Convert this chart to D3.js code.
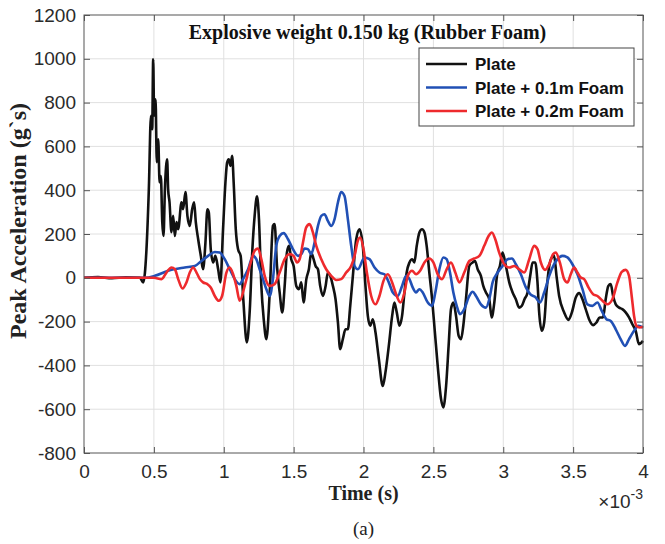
<!DOCTYPE html>
<html>
<head>
<meta charset="utf-8">
<script src="https://cdnjs.cloudflare.com/ajax/libs/d3/7.8.5/d3.min.js"></script>
<style>
  body { margin: 0; background: #fff; }
</style>
</head>
<body>
<div id="chart"></div>
<script>
// time in ms (axis shows x10^-3 s), acceleration in g's
var xTicks = [0, 0.5, 1, 1.5, 2, 2.5, 3, 3.5, 4];
var yTicks = [-800, -600, -400, -200, 0, 200, 400, 600, 800, 1000, 1200];
var seriesNames = ["Plate", "Plate + 0.1m Foam", "Plate + 0.2m Foam"];
var seriesColors = ["#111111", "#2150b5", "#ee2a2d"];

var plate = [[0,0],[0.1,3],[0.2,-2],[0.3,2],[0.4,0],[0.424,-21],[0.447,130],[0.464,405],[0.479,740],[0.488,678],
  [0.495,998],[0.502,740],[0.512,815],[0.521,528],[0.531,632],[0.541,436],[0.55,465],[0.56,254],[0.569,191],[0.579,405],
  [0.595,541],[0.602,405],[0.612,345],[0.626,208],[0.638,283],[0.65,191],[0.662,254],[0.674,222],[0.698,345],[0.709,313],
  [0.726,391],[0.74,283],[0.757,237],[0.774,313],[0.788,345],[0.8,254],[0.817,176],[0.836,100],[0.852,39],[0.869,161],
  [0.883,313],[0.893,299],[0.907,131],[0.924,70],[0.94,100],[0.96,39],[0.976,-21],[0.995,222],[1.012,435],[1.024,526],
  [1.036,541],[1.048,511],[1.06,557],[1.071,435],[1.086,222],[1.102,131],[1.121,100],[1.14,-100],[1.165,-295],[1.186,-150],
  [1.205,131],[1.221,283],[1.238,372],[1.252,268],[1.269,-37],[1.286,-189],[1.305,-280],[1.329,-67],[1.352,237],[1.364,245],
  [1.381,54],[1.4,-67],[1.419,-158],[1.436,-37],[1.452,115],[1.467,146],[1.483,85],[1.5,54],[1.519,-37],[1.538,-52],
  [1.555,-21],[1.571,-113],[1.591,-6],[1.609,39],[1.626,115],[1.643,85],[1.657,54],[1.674,39],[1.69,-37],[1.709,-83],
  [1.729,-37],[1.745,24],[1.762,9],[1.781,-37],[1.8,-98],[1.817,-204],[1.833,-326],[1.852,-280],[1.871,-235],[1.888,-235],
  [1.905,-128],[1.924,9],[1.948,176],[1.971,222],[1.995,146],[2.014,-37],[2.031,-174],[2.048,-219],[2.067,-189],[2.086,-250],
  [2.11,-372],[2.138,-494],[2.157,-432],[2.181,-311],[2.205,-174],[2.221,-113],[2.238,-158],[2.257,-219],[2.276,-174],[2.293,-67],
  [2.309,24],[2.329,70],[2.348,85],[2.364,70],[2.381,146],[2.4,207],[2.419,222],[2.436,207],[2.452,146],[2.471,24],
  [2.491,-98],[2.509,-235],[2.531,-402],[2.555,-554],[2.571,-592],[2.591,-494],[2.609,-311],[2.626,-143],[2.643,-113],[2.662,-174],
  [2.681,-265],[2.698,-280],[2.714,-219],[2.733,-98],[2.757,54],[2.781,70],[2.798,77],[2.817,39],[2.84,9],[2.857,-37],
  [2.876,-67],[2.9,-98],[2.917,-181],[2.936,-113],[2.955,9],[2.976,54],[2.995,115],[3.019,54],[3.043,-21],[3.067,-67],
  [3.09,-98],[3.114,-136],[3.133,-128],[3.152,-98],[3.174,-67],[3.193,9],[3.21,70],[3.229,70],[3.245,-21],[3.257,-158],
  [3.276,-242],[3.293,-204],[3.309,-67],[3.329,54],[3.348,93],[3.364,100],[3.381,9],[3.4,-83],[3.436,-158],[3.467,-192],
  [3.491,-158],[3.519,-90],[3.543,-70],[3.567,-98],[3.59,-143],[3.614,-189],[3.643,-216],[3.667,-204],[3.69,-181],[3.714,-181],
  [3.733,-98],[3.752,-37],[3.769,-29],[3.786,-83],[3.805,-121],[3.829,-136],[3.852,-143],[3.876,-158],[3.9,-181],[3.924,-212],
  [3.948,-242],[3.971,-303],[4.0,-288]];

var foam01 = [[0,0],[0.436,0],[0.507,9],[0.602,32],[0.721,47],[0.793,54],[0.84,77],[0.888,100],[0.936,118],[0.971,115],
  [1.007,85],[1.043,39],[1.079,-6],[1.114,-29],[1.138,-6],[1.174,39],[1.21,100],[1.233,85],[1.257,39],[1.281,-6],
  [1.305,-52],[1.329,-83],[1.352,-6],[1.376,146],[1.4,191],[1.429,204],[1.46,176],[1.495,131],[1.531,100],[1.555,108],
  [1.579,134],[1.602,131],[1.626,108],[1.65,161],[1.674,237],[1.698,283],[1.721,290],[1.745,260],[1.769,237],[1.793,268],
  [1.817,344],[1.84,392],[1.864,374],[1.888,268],[1.912,146],[1.936,54],[1.96,39],[2.007,93],[2.043,85],[2.079,47],
  [2.114,24],[2.15,16],[2.181,-21],[2.21,-67],[2.245,-83],[2.276,-37],[2.305,9],[2.329,-6],[2.352,-44],[2.376,-67],
  [2.4,-52],[2.424,-67],[2.46,-113],[2.491,-128],[2.514,-67],[2.543,39],[2.571,93],[2.595,85],[2.619,24],[2.643,-67],
  [2.667,-128],[2.69,-166],[2.721,-143],[2.757,-83],[2.781,-64],[2.805,-83],[2.84,-121],[2.876,-136],[2.9,-98],[2.924,-21],
  [2.96,24],[2.995,54],[3.031,85],[3.062,88],[3.09,62],[3.126,16],[3.162,-44],[3.193,-75],[3.233,-90],[3.262,-113],
  [3.293,-67],[3.329,9],[3.364,62],[3.388,85],[3.424,100],[3.459,93],[3.495,62],[3.531,16],[3.567,-52],[3.602,-121],
  [3.638,-128],[3.674,-113],[3.705,-151],[3.738,-189],[3.769,-197],[3.805,-235],[3.84,-280],[3.871,-311],[3.9,-280],[3.936,-242],
  [3.967,-219],[4.0,-227]];

var foam02 = [[0,0],[0.5,0],[0.555,-6],[0.59,24],[0.626,47],[0.65,39],[0.674,-6],[0.705,-49],[0.733,-21],[0.757,24],
  [0.781,47],[0.805,24],[0.829,-6],[0.852,-21],[0.883,-29],[0.907,-44],[0.936,-83],[0.964,-105],[0.988,-83],[1.019,24],
  [1.043,47],[1.067,16],[1.09,-37],[1.114,-105],[1.15,-37],[1.186,54],[1.221,123],[1.245,134],[1.269,85],[1.293,9],
  [1.329,-37],[1.364,-29],[1.4,24],[1.436,85],[1.471,108],[1.5,100],[1.524,70],[1.543,85],[1.567,161],[1.59,230],
  [1.614,245],[1.638,207],[1.662,146],[1.698,85],[1.733,39],[1.769,9],[1.805,-10],[1.84,-6],[1.876,24],[1.912,54],
  [1.936,100],[1.96,170],[1.976,184],[2.0,131],[2.024,24],[2.055,-83],[2.086,-121],[2.114,-83],[2.143,-14],[2.174,16],
  [2.205,-21],[2.229,-67],[2.264,-113],[2.293,-67],[2.317,9],[2.348,32],[2.376,16],[2.405,32],[2.436,70],[2.471,88],
  [2.5,70],[2.531,16],[2.562,-6],[2.595,39],[2.626,70],[2.657,24],[2.686,-21],[2.721,24],[2.757,77],[2.793,88],
  [2.829,100],[2.864,146],[2.895,191],[2.919,207],[2.943,176],[2.971,115],[3.007,62],[3.043,47],[3.079,54],[3.114,39],
  [3.15,24],[3.186,85],[3.221,146],[3.245,131],[3.269,70],[3.3,36],[3.329,62],[3.357,108],[3.376,115],[3.405,70],
  [3.436,-6],[3.459,-21],[3.483,16],[3.507,47],[3.531,24],[3.555,1],[3.579,-6],[3.61,-44],[3.643,-75],[3.674,-83],
  [3.71,-105],[3.745,-121],[3.781,-98],[3.817,-21],[3.848,27],[3.876,36],[3.9,9],[3.919,-83],[3.936,-174],[3.952,-219],
  [3.976,-227],[4.0,-224]];

var width = 665, height = 544;
var margin = {top: 15, right: 22, bottom: 91, left: 84};
var w = width - margin.left - margin.right,
    h = height - margin.top - margin.bottom;

var svg = d3.select("#chart").append("svg")
  .attr("width", width)
  .attr("height", height)
  .style("background", "#fff");

var g = svg.append("g").attr("transform", "translate(" + margin.left + "," + margin.top + ")");

var x = d3.scaleLinear().domain([0, 4]).range([0, w]);
var y = d3.scaleLinear().domain([-800, 1200]).range([h, 0]);

// grid
g.append("g").selectAll("line").data(xTicks.slice(1, -1)).enter().append("line")
  .attr("x1", function(d) { return x(d); }).attr("x2", function(d) { return x(d); })
  .attr("y1", 0).attr("y2", h)
  .attr("stroke", "#e0e0e0").attr("stroke-width", 1);
g.append("g").selectAll("line").data(yTicks.slice(1, -1)).enter().append("line")
  .attr("y1", function(d) { return y(d); }).attr("y2", function(d) { return y(d); })
  .attr("x1", 0).attr("x2", w)
  .attr("stroke", "#e0e0e0").attr("stroke-width", 1);

var line = d3.line()
  .x(function(d) { return x(d[0]); })
  .y(function(d) { return y(d[1]); })
  .curve(d3.curveMonotoneX);

var allSeries = [plate, foam01, foam02];
g.append("g").selectAll("path").data(allSeries).enter().append("path")
  .attr("d", line)
  .attr("fill", "none")
  .attr("stroke", function(d, i) { return seriesColors[i]; })
  .attr("stroke-width", 2.6)
  .attr("stroke-linejoin", "round");

// axes (MATLAB style, ticks inside, on all sides)
var axisColor = "#555";
var plainNum = function(d) { return String(d); };
function styleAxis(sel) {
  sel.select(".domain").remove();
  sel.selectAll(".tick line").attr("stroke", axisColor);
  sel.selectAll(".tick text")
    .attr("fill", "#2a2a2a")
    .style("font-family", "'Liberation Sans', Arial, sans-serif")
    .style("font-size", "19px");
}

g.append("g").attr("transform", "translate(0," + h + ")")
  .call(d3.axisBottom(x).tickValues(xTicks).tickSizeInner(-6).tickSizeOuter(0).tickPadding(12).tickFormat(plainNum))
  .call(styleAxis);
g.append("g").attr("transform", "translate(0,0)")
  .call(d3.axisTop(x).tickValues(xTicks).tickSizeInner(-6).tickSizeOuter(0).tickFormat(""))
  .call(styleAxis);
g.append("g")
  .call(d3.axisLeft(y).tickValues(yTicks).tickSizeInner(-6).tickSizeOuter(0).tickPadding(8).tickFormat(plainNum))
  .call(styleAxis);
g.append("g").attr("transform", "translate(" + w + ",0)")
  .call(d3.axisRight(y).tickValues(yTicks).tickSizeInner(-6).tickSizeOuter(0).tickFormat(""))
  .call(styleAxis);

g.append("rect")
  .attr("width", w).attr("height", h)
  .attr("fill", "none").attr("stroke", axisColor).attr("stroke-width", 1);

// title inside axes
g.append("text")
  .attr("x", w / 2 + 4).attr("y", 24)
  .attr("text-anchor", "middle")
  .style("font-family", "'Liberation Serif', 'Times New Roman', serif")
  .style("font-weight", "bold")
  .style("font-size", "20px")
  .attr("fill", "#111")
  .text("Explosive weight 0.150 kg (Rubber Foam)");

// legend
var legend = g.append("g").attr("transform", "translate(" + (419 - margin.left) + "," + (48 - margin.top) + ")");
legend.append("rect")
  .attr("width", 215).attr("height", 78)
  .attr("fill", "#fff").attr("stroke", "#444").attr("stroke-width", 1);
var items = legend.selectAll("g.item").data(seriesNames).enter().append("g")
  .attr("class", "item")
  .attr("transform", function(d, i) { return "translate(0," + (16 + i * 23.5) + ")"; });
items.append("line")
  .attr("x1", 7).attr("x2", 48)
  .attr("stroke", function(d, i) { return seriesColors[i]; })
  .attr("stroke-width", 2.6);
items.append("text")
  .attr("x", 56).attr("y", 6)
  .style("font-family", "'Liberation Sans', Arial, sans-serif")
  .style("font-weight", "bold")
  .style("font-size", "17px")
  .attr("fill", "#111")
  .text(function(d) { return d; });

// axis labels
svg.append("text")
  .attr("x", margin.left + w / 2).attr("y", 500)
  .attr("text-anchor", "middle")
  .style("font-family", "'Liberation Serif', 'Times New Roman', serif")
  .style("font-weight", "bold")
  .style("font-size", "20px")
  .attr("fill", "#222")
  .text("Time (s)");

svg.append("text")
  .attr("transform", "translate(26,221) rotate(-90)")
  .attr("text-anchor", "middle")
  .style("font-family", "'Liberation Serif', 'Times New Roman', serif")
  .style("font-weight", "bold")
  .style("font-size", "24px")
  .attr("fill", "#222")
  .text("Peak Acceleration (g`s)");

var expo = svg.append("text")
  .attr("x", margin.left + w).attr("y", 508)
  .attr("text-anchor", "end")
  .style("font-family", "'Liberation Sans', Arial, sans-serif")
  .style("font-size", "19px")
  .attr("fill", "#2a2a2a");
expo.append("tspan").text("\u00d710");
expo.append("tspan").attr("dy", -9).style("font-size", "14px").text("-3");

svg.append("text")
  .attr("x", margin.left + w / 2).attr("y", 535)
  .attr("text-anchor", "middle")
  .style("font-family", "'Liberation Serif', 'Times New Roman', serif")
  .style("font-size", "19px")
  .attr("fill", "#222")
  .text("(a)");
</script>
</body>
</html>
